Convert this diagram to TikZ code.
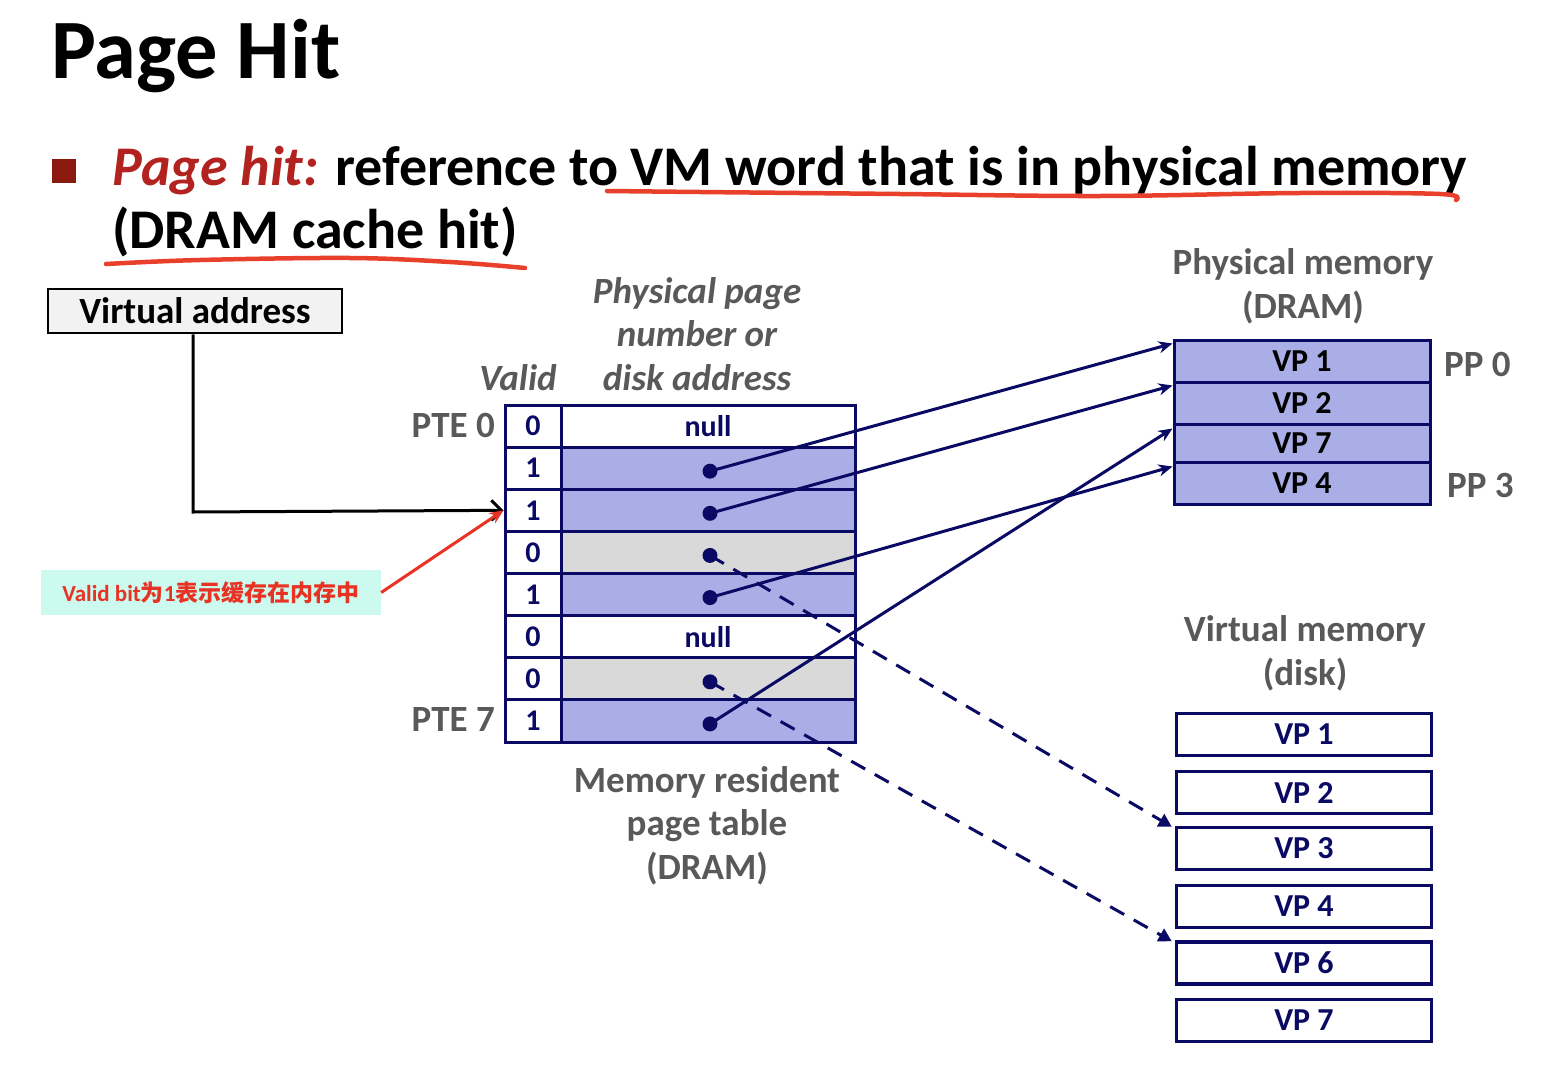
\documentclass[tikz,border=0pt]{standalone}
\usepackage{fontspec}
\setmainfont{Carlito}
\newfontfamily\cjk{Noto Sans CJK SC}
\usetikzlibrary{arrows.meta}
\definecolor{navy}{RGB}{10,10,100}
\definecolor{lav}{RGB}{170,174,230}
\definecolor{cellgray}{RGB}{217,217,217}
\definecolor{lblgray}{RGB}{89,89,89}
\definecolor{penred}{RGB}{232,64,42}
\definecolor{annofill}{RGB}{204,250,238}
\definecolor{annotext}{RGB}{232,50,35}
\definecolor{bulletred}{RGB}{140,26,16}
\definecolor{hitred}{RGB}{178,34,30}
\begin{document}
\begin{tikzpicture}[x=1pt,y=-1pt,
  lbl/.style={text=lblgray,font=\fontsize{37}{43.5}\selectfont\bfseries,align=center,inner sep=0},
  ilbl/.style={lbl,font=\fontsize{37}{43.5}\selectfont\bfseries\itshape},
  cellv/.style={draw=navy,line width=3pt,minimum width=56pt,minimum height=42.125pt,inner sep=0,text=navy,font=\fontsize{30}{32}\selectfont\bfseries},
  cellp/.style={draw=navy,line width=3pt,minimum width=294pt,minimum height=42.125pt,inner sep=0,text=navy,font=\fontsize{30}{32}\selectfont\bfseries},
  pmem/.style={draw=navy,line width=3pt,fill=lav,minimum width=256pt,inner sep=0,text=black,font=\fontsize{32}{34}\selectfont\bfseries},
  dmem/.style={draw=navy,line width=3.5pt,fill=white,minimum width=255pt,minimum height=42pt,inner sep=0,text=navy,font=\fontsize{32}{34}\selectfont\bfseries},
  dot/.style={circle,fill=navy,inner sep=0,minimum size=15pt},
  link/.style={draw=navy,line width=3pt,-{Stealth[length=14pt,width=12pt]}},
  dlink/.style={draw=navy,line width=3pt,dash pattern=on 16pt off 11pt,-{Triangle[length=13pt,width=14pt]}},
  pen/.style={draw=penred,line width=4.5pt,line cap=round,line join=round}
]
\useasboundingbox[fill=white] (0,0) rectangle (1548,1068);

% title
\node[anchor=base west,inner sep=0,font=\fontsize{84.5}{100}\selectfont\bfseries] (title) at (51,78) {Page Hit};

% bullet
\fill[bulletred] (52,159) rectangle (76,183);
\node[anchor=base west,inner sep=0,font=\fontsize{56}{66}\selectfont\bfseries] (b1) at (112,185)
  {\textcolor{hitred}{\itshape Page hit:} reference to VM word that is in physical memory};
\node[anchor=base west,inner sep=0,font=\fontsize{56}{66}\selectfont\bfseries] (b2) at (112,248) {(DRAM cache hit)};
\draw[pen] plot[smooth,tension=0.6] coordinates {(607,191) (700,192) (900,194) (1100,196) (1300,193) (1440,194) (1456,200)};
\draw[pen] plot[smooth,tension=0.6] coordinates {(106,264) (200,260) (350,258) (450,262) (525,268)};

% virtual address
\node[draw=black,line width=2.5pt,fill=black!5,minimum width=294pt,minimum height=44pt,inner sep=0,font=\fontsize{37}{40}\selectfont\bfseries] (va) at (195,311) {Virtual address};

% page table
\foreach \i/\v/\f/\t in {0/0/white/null,1/1/lav/,2/1/lav/,3/0/cellgray/,4/1/lav/,5/0/white/null,6/0/cellgray/,7/1/lav/}{
  \node[cellp,fill=\f] (p\i) at (708,{405+42.125*(\i+0.5)}) {\t};
  \node[cellv,fill=white] (v\i) at (533,{405+42.125*(\i+0.5)}) {\v};
}
\foreach \i in {1,2,3,4,6,7}{
  \node[dot] (d\i) at (710,{405+42.125*(\i+0.5)+3}) {};
}

% labels of page table (base = baseline of last line)
\node[ilbl,anchor=base] (ppn) at (697,390) {Physical page\\number or\\disk address};
\node[ilbl,anchor=base] (valid) at (518,390) {Valid};
\node[lbl,anchor=base east] (pte0) at (495,437) {PTE 0};
\node[lbl,anchor=base east] (pte7) at (495,731) {PTE 7};
\node[lbl,anchor=base] (mrpt) at (707,879) {Memory resident\\page table\\(DRAM)};

% physical memory
\node[pmem,minimum height=42pt] (m1) at (1302,361) {VP 1};
\node[pmem,minimum height=42pt] (m2) at (1302,403) {VP 2};
\node[pmem,minimum height=38pt] (m3) at (1302,443) {VP 7};
\node[pmem,minimum height=42pt] (m4) at (1302,483) {VP 4};
\node[lbl,anchor=base] (pmlbl) at (1303,318) {Physical memory\\(DRAM)};
\node[lbl,anchor=base west] (pp0) at (1444,376) {PP 0};
\node[lbl,anchor=base west] (pp3) at (1447,497) {PP 3};

% virtual memory (disk)
\node[lbl,anchor=base] (vmlbl) at (1305,685) {Virtual memory\\(disk)};
\node[dmem] (k1) at (1304,734.5) {VP 1};
\node[dmem] (k2) at (1304,792.5) {VP 2};
\node[dmem] (k3) at (1304,848.5) {VP 3};
\node[dmem] (k4) at (1304,906.5) {VP 4};
\node[dmem] (k6) at (1304,963) {VP 6};
\node[dmem] (k7) at (1304,1020.5) {VP 7};

% links
\draw[link] (d1.center) -- ([yshift=-5pt]m1.north west);
\draw[link] (d2.center) -- ([yshift=-5pt]m2.north west);
\draw[link] (d7.center) -- ([yshift=-6pt]m3.north west);
\draw[link] (d4.center) -- ([yshift=-6pt]m4.north west);
\draw[dlink] (d3.center) -- ([xshift=-3pt,yshift=-1pt]k3.north west);
\draw[dlink] (d6.center) -- ([xshift=-3pt,yshift=-1pt]k6.north west);

% address arrow
\coordinate (bend) at (193,512);
\draw[black,line width=3pt,-{Straight Barb[length=10pt,width=20pt,line width=3pt]}] (va.south -| bend) -- (bend) -- (v2.west);

% annotation
\node[fill=annofill,minimum width=340pt,minimum height=45pt,inner sep=0,text=annotext,font=\fontsize{23}{26}\selectfont\bfseries] (anno) at (211,592.5) {Valid bit{\cjk 为}1{\cjk 表示缓存在内存中}};
\draw[annotext,line width=3pt,-{Stealth[length=14pt,width=12pt]}] (anno.east) -- (v2.west);
\end{tikzpicture}
\end{document}
